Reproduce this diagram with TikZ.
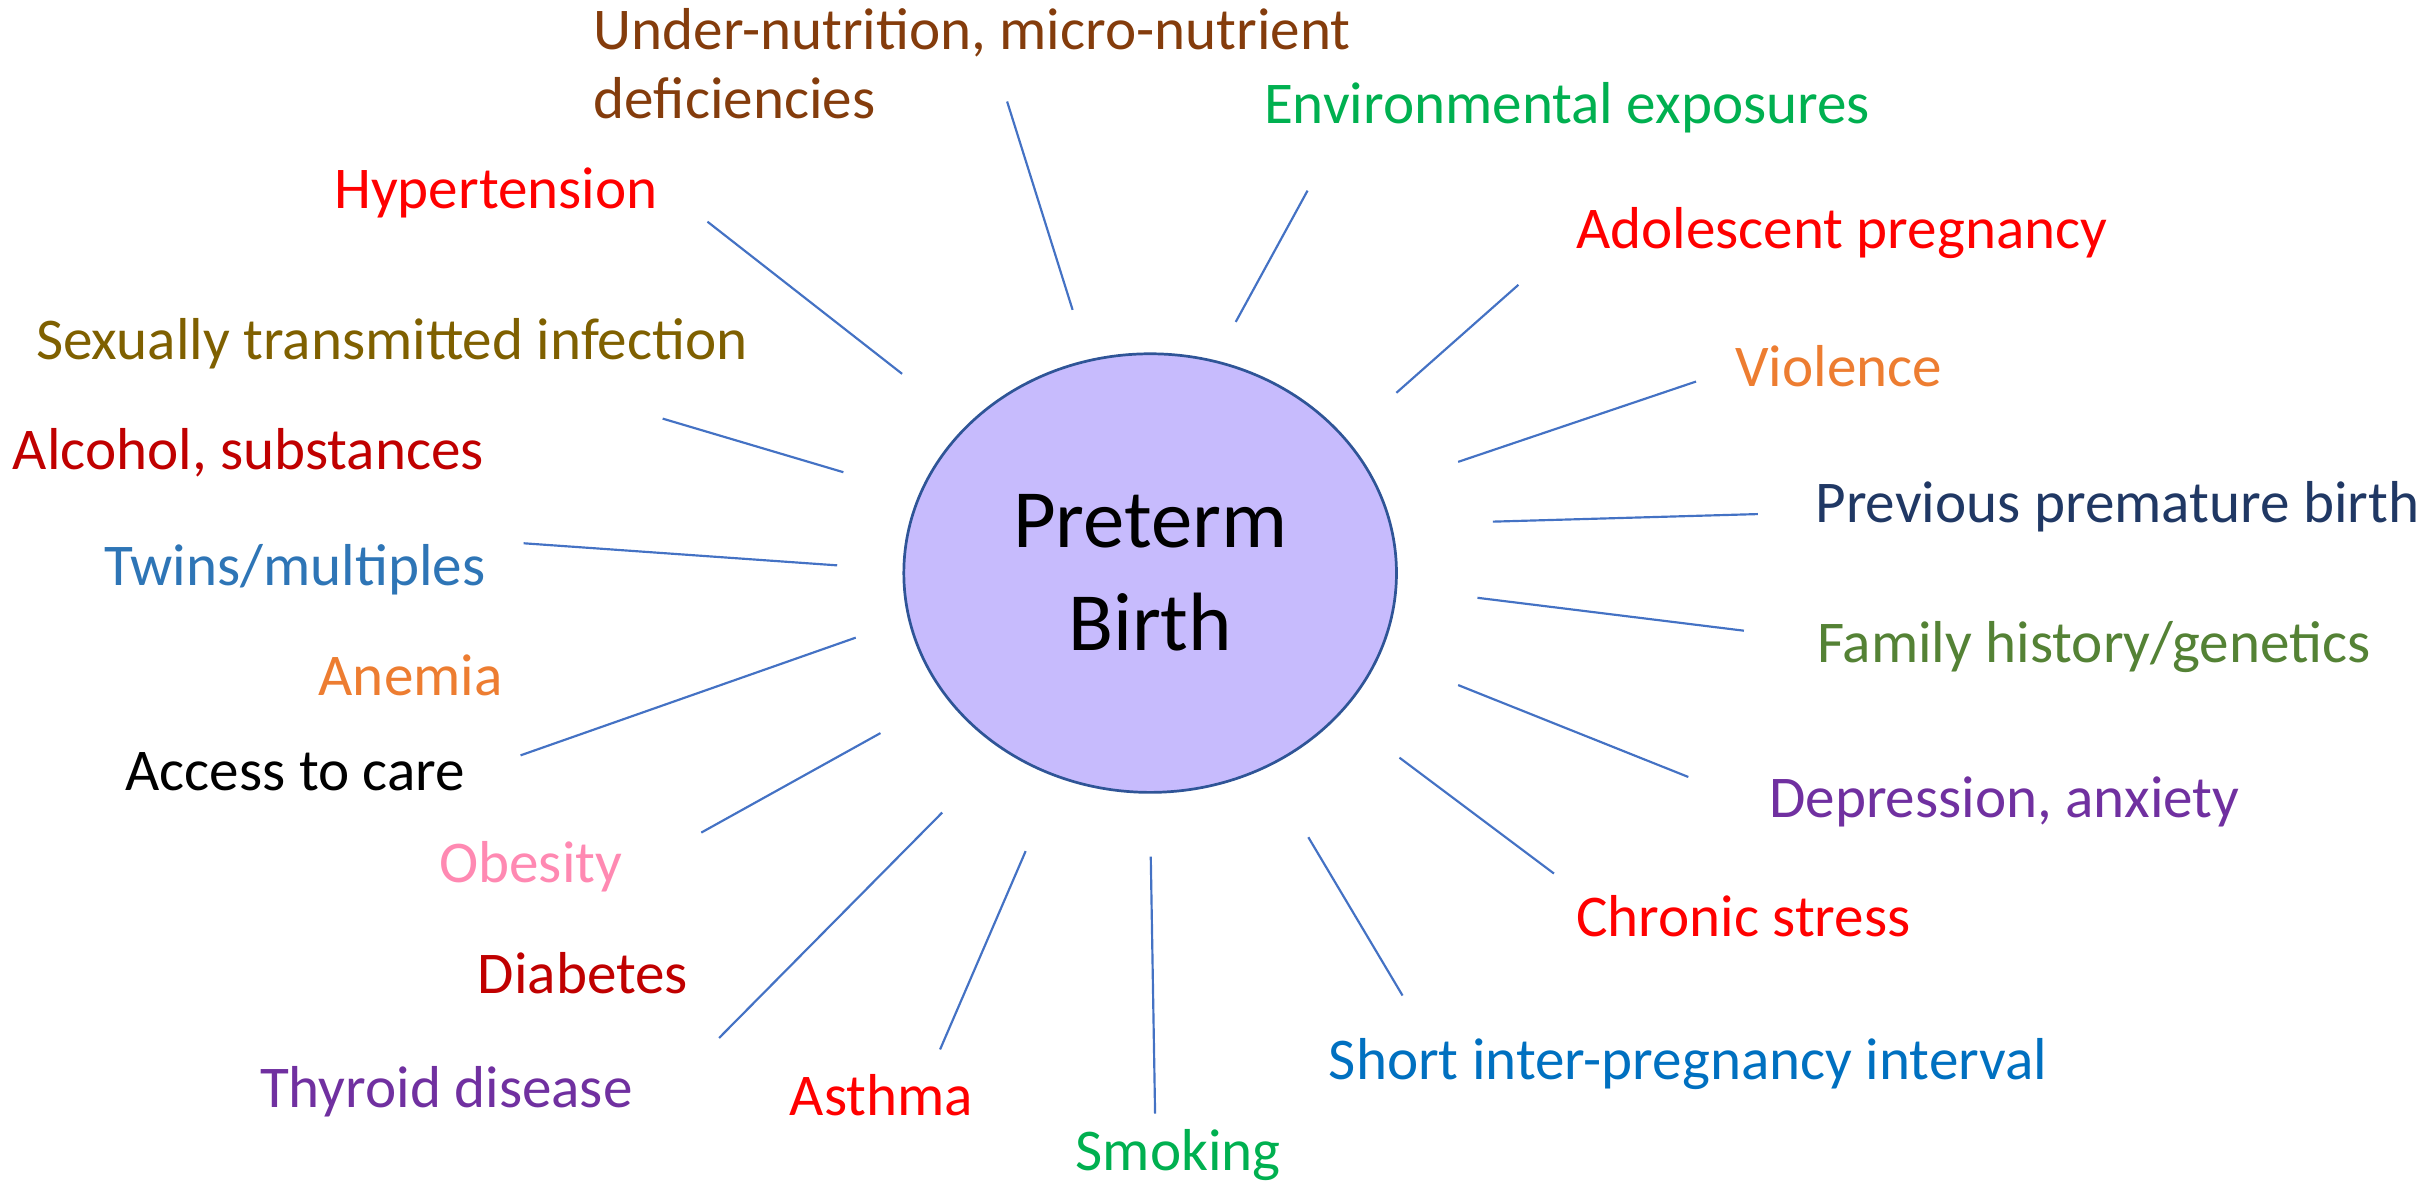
\documentclass[tikz,border=0pt]{standalone}
\usepackage{fontspec}
\setmainfont{Carlito}
\usepackage{xcolor}
\usepackage{tikz}
\usetikzlibrary{shapes.geometric}

\definecolor{spokeblue}{HTML}{4472C4}
\definecolor{hubfill}{RGB}{199,187,253}
\definecolor{hubline}{HTML}{2F5597}
\definecolor{cbrown}{HTML}{843C0C}
\definecolor{cgreen}{HTML}{00B050}
\definecolor{cred}{HTML}{FF0000}
\definecolor{corange}{HTML}{ED7D31}
\definecolor{cnavy}{HTML}{203864}
\definecolor{cleaf}{HTML}{548235}
\definecolor{cpurple}{HTML}{7030A0}
\definecolor{cblue}{HTML}{0070C0}
\definecolor{cdarkred}{HTML}{C00000}
\definecolor{cpink}{HTML}{FF89B2}
\definecolor{csteel}{HTML}{2E75B6}
\definecolor{colive}{HTML}{7F6000}

\begin{document}
\begin{tikzpicture}[
        x=0.02cm, y=-0.02cm,
        lbl/.style={anchor=base west, inner sep=0pt, align=left, font=\fontsize{21.8}{25.6}\selectfont},
        hub/.style={ellipse, draw=hubline, line width=1pt, fill=hubfill, minimum width=6.38cm, minimum height=5.68cm, inner sep=0pt, align=center, font=\fontsize{30.5}{38}\selectfont},
        spoke/.style={draw=spokeblue, line width=0.8pt}
    ]
        \useasboundingbox (0,0) rectangle (1568,769);

        % centre
        \node[hub] (pb) at (744.6,371) {Preterm\\Birth};

        % risk factors, clockwise from the top
        \node[lbl, text=cbrown] (under) at (384,77) {Under-nutrition, micro-nutrient\\deficiencies};
        \node[lbl, text=cgreen] (env) at (818,80) {Environmental exposures};
        \node[lbl, text=cred] (adol) at (1020,161) {Adolescent pregnancy};
        \node[lbl, text=corange] (viol) at (1123,250) {Violence};
        \node[lbl, text=cnavy] (prev) at (1175,338) {Previous premature birth};
        \node[lbl, text=cleaf] (fam) at (1176,429) {Family history/genetics};
        \node[lbl, text=cpurple] (dep) at (1145,529) {Depression, anxiety};
        \node[lbl, text=cred] (chron) at (1020,606) {Chronic stress};
        \node[lbl, text=cblue] (short) at (860,699) {Short inter-pregnancy interval};
        \node[lbl, text=cgreen] (smok) at (696,758) {Smoking};
        \node[lbl, text=cred] (asth) at (511,722) {Asthma};
        \node[lbl, text=cpurple] (thyr) at (168,717) {Thyroid disease};
        \node[lbl, text=cdarkred] (diab) at (309,643) {Diabetes};
        \node[lbl, text=cpink] (obes) at (284,571) {Obesity};
        \node[lbl, text=black] (access) at (81,512) {Access to care};
        \node[lbl, text=corange] (anem) at (206,450) {Anemia};
        \node[lbl, text=csteel] (twins) at (67,379) {Twins/multiples};
        \node[lbl, text=cdarkred] (alco) at (8,304) {Alcohol, substances};
        \node[lbl, text=colive] (sti) at (23,233) {Sexually transmitted infection};
        \node[lbl, text=cred] (hyper) at (216,135) {Hypertension};

        % spokes: outer end / inner end
        \foreach \n/\xa/\ya/\xb/\yb in {
            1/652/65.7/694.4/200.6, 2/846.5/123.4/800/208.4,
            3/983/184.4/904/254.3, 4/1098/247/944/299,
            5/1138/332.8/966.5/337.7, 6/1129/408.3/956.5/387,
            7/1093/503/944/443.5, 8/1006/565.5/906/490.5,
            9/908/644.5/847/542, 10/747.8/721/745/554.5,
            11/608.6/679.4/664/551, 12/465.5/672/610/526,
            13/454/539/570/474.6, 14/337/489/554/412.8,
            15/339/351.7/542/366, 16/429/271/546/305.7,
            17/458/143.5/584/242} {
            \coordinate (out\n) at (\xa,\ya);
            \coordinate (in\n) at (\xb,\yb);
            \draw[spoke] (out\n) -- (in\n);
        }
    \end{tikzpicture}
\end{document}
